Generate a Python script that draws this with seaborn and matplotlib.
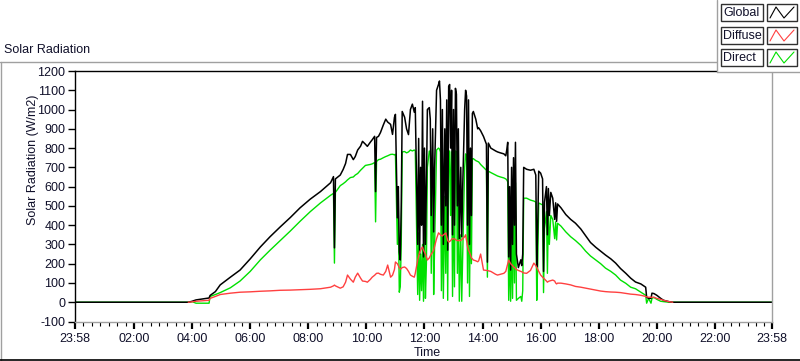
import matplotlib
matplotlib.use("Agg")
import matplotlib.pyplot as plt
from matplotlib.lines import Line2D
from matplotlib.patches import Rectangle
import seaborn as sns
import pandas as pd

# time of day in minutes since midnight (23:58 of the previous day = -2)
minutes = [
    -2, 232, 240, 248, 275, 277, 288, 298, 319, 339, 360, 381, 401, 422, 443, 463,
    484, 505, 526, 532, 534, 536, 546, 552, 557, 561, 567, 573, 577, 582, 588, 592,
    598, 602, 608, 612, 617, 619, 621, 625, 629, 635, 640, 644, 650, 654, 658, 660,
    664, 666, 668, 670, 672, 674, 679, 683, 687, 691, 695, 699, 701, 706, 708, 710,
    712, 714, 716, 718, 720, 722, 724, 726, 730, 732, 734, 737, 739, 741, 745, 749,
    751, 753, 755, 757, 759, 762, 764, 766, 768, 770, 772, 774, 776, 778, 780, 782,
    784, 786, 788, 790, 792, 795, 797, 799, 803, 805, 807, 809, 811, 813, 815, 817,
    819, 821, 826, 830, 832, 836, 842, 848, 850, 852, 857, 867, 871, 877, 884, 888,
    890, 892, 894, 896, 898, 900, 902, 904, 906, 908, 910, 914, 919, 921, 923, 925,
    931, 939, 946, 950, 952, 954, 956, 960, 964, 966, 968, 972, 974, 976, 978, 981,
    985, 989, 991, 993, 995, 1002, 1012, 1022, 1032, 1043, 1053, 1063, 1074, 1084, 1094, 1105,
    1115, 1125, 1136, 1146, 1156, 1167, 1177, 1179, 1183, 1188, 1190, 1194, 1200, 1208, 1214, 1225,
    1233, 1438,
]

global_wm2 = [
    0, 0, 5, 12, 22, 35, 55, 90, 130, 167, 225, 287, 340, 391, 440, 490,
    535, 574, 620, 652, 282, 640, 660, 689, 720, 767, 767, 740, 756, 790, 810, 835,
    820, 809, 830, 843, 861, 574, 855, 861, 880, 920, 950, 935, 923, 871, 960, 975,
    438, 600, 261, 219, 500, 990, 960, 900, 870, 1000, 1028, 986, 1010, 300, 850, 250,
    700, 400, 1043, 235, 800, 300, 600, 1000, 1010, 950, 450, 900, 365, 700, 1100, 1130,
    1148, 1050, 400, 1000, 300, 900, 500, 1050, 270, 1120, 1130, 800, 1100, 350, 1000, 400,
    1110, 1080, 500, 900, 330, 700, 340, 600, 1000, 1100, 1070, 400, 1050, 300, 800, 450,
    980, 990, 950, 900, 905, 890, 860, 820, 208, 826, 800, 785, 780, 775, 770, 760,
    790, 830, 235, 600, 167, 700, 300, 750, 400, 830, 250, 180, 220, 190, 250, 700,
    690, 685, 690, 660, 183, 400, 680, 670, 640, 160, 520, 600, 350, 590, 450, 570,
    540, 430, 516, 420, 510, 490, 455, 430, 410, 380, 345, 310, 285, 265, 245, 225,
    203, 175, 150, 125, 105, 95, 78, 26, 20, 20, 47, 45, 36, 20, 10, 3,
    0, 0,
]

direct_wm2 = [
    0, 0, 3, -5, -5, 30, 40, 50, 75, 110, 160, 220, 270, 320, 370, 420,
    470, 515, 555, 565, 203, 570, 605, 615, 625, 635, 647, 650, 660, 668, 685, 695,
    710, 712, 715, 718, 725, 417, 730, 740, 742, 750, 756, 760, 767, 768, 765, 768,
    300, 450, 52, 80, 300, 780, 782, 775, 780, 790, 785, 790, 785, 40, 360, 10,
    250, 60, 300, 5, 450, 20, 200, 700, 785, 780, 150, 700, 40, 300, 790, 800,
    795, 780, 60, 600, 20, 550, 150, 700, 10, 780, 785, 450, 780, 30, 650, 80,
    785, 780, 150, 550, 5, 350, 5, 250, 700, 770, 760, 100, 740, 30, 500, 200,
    745, 745, 735, 730, 728, 715, 700, 685, 130, 680, 673, 660, 655, 650, 645, 640,
    635, 625, 10, 300, 5, 400, 20, 550, 100, 620, 10, 20, 30, 5, 60, 540,
    540, 530, 525, 520, 10, 200, 515, 510, 505, 50, 380, 470, 150, 460, 300, 450,
    430, 330, 417, 323, 410, 395, 365, 340, 320, 295, 265, 240, 219, 200, 177, 160,
    141, 115, 98, 78, 70, 52, 36, -5, 20, -5, 20, 25, 15, 5, 3, 0,
    0, 0,
]

# diffuse is only logged between dawn and dusk (None = no sample)
diffuse_wm2 = [
    None, 0, 2, 5, 10, 20, 30, 40, 47, 52, 54, 57, 59, 62, 63, 65,
    67, 70, 78, 85, 89, 85, 73, 80, 104, 141, 120, 104, 130, 151, 125, 110,
    108, 104, 118, 130, 140, 145, 150, 151, 145, 141, 160, 193, 130, 140, 170, 209,
    200, 190, 180, 172, 175, 180, 183, 175, 160, 141, 135, 130, 150, 219, 240, 260,
    270, 280, 287, 270, 260, 250, 235, 219, 230, 240, 250, 260, 271, 290, 330, 360,
    355, 350, 345, 344, 350, 355, 360, 340, 320, 313, 315, 320, 325, 330, 330, 328,
    325, 322, 320, 320, 320, 320, 325, 330, 340, 350, 320, 290, 271, 260, 245, 230,
    225, 219, 215, 210, 215, 250, 167, 165, 165, 163, 160, 145, 141, 145, 150, 160,
    180, 200, 219, 210, 200, 195, 190, 183, 180, 175, 170, 165, 160, 158, 155, 152,
    150, 165, 203, 190, 180, 170, 160, 141, 130, 125, 120, 110, 104, 108, 110, 112,
    115, 110, 100, 95, 99, 99, 95, 90, 82, 78, 73, 68, 63, 58, 55, 53,
    52, 50, 46, 42, 40, 36, 30, 28, 26, 26, 26, 26, 20, 15, 10, 3,
    0, None,
]

series_names = ["Global", "Diffuse", "Direct"]
series_colors = {"Global": "#000000", "Diffuse": "#ff4040", "Direct": "#00e000"}

tick_minutes = [-2, 120, 240, 360, 480, 600, 720, 840, 960, 1080, 1200, 1320, 1438]
tick_labels = ["23:58", "02:00", "04:00", "06:00", "08:00", "10:00", "12:00",
               "14:00", "16:00", "18:00", "20:00", "22:00", "23:58"]
y_ticks = list(range(-100, 1300, 100))

df = pd.DataFrame({"Minutes": minutes, "Global": global_wm2,
                   "Direct": direct_wm2, "Diffuse": diffuse_wm2})

sns.set_theme(style="white")
plt.rcParams["font.family"] = ["Liberation Sans", "DejaVu Sans"]
text_col = "#10102a"

W, H = 800, 361
fig = plt.figure(figsize=(W / 100, H / 100), dpi=100)
fig.patch.set_facecolor("white")


def fx(px):
    return px / W


def fy(py):
    return 1 - py / H


ax = fig.add_axes([fx(75), fy(321.5), 697 / W, 250.5 / H])
ax.set_facecolor("white")

# drawing order: Direct, Global over it, Diffuse on top
for name, lw in [("Direct", 1.0), ("Global", 1.1), ("Diffuse", 1.0)]:
    sns.lineplot(data=df.dropna(subset=[name]), x="Minutes", y=name,
                 color=series_colors[name], linewidth=lw, estimator=None,
                 sort=False, ax=ax, legend=False)

ax.set_xlim(-2, 1438)
ax.set_ylim(-100, 1200)
ax.set_xlabel("")
ax.set_ylabel("")
ax.set_yticks(y_ticks)
ax.set_yticklabels([str(v) for v in y_ticks])
ax.set_xticks(tick_minutes)
ax.set_xticklabels(tick_labels)

minor = []
for a, b in zip(tick_minutes[:-1], tick_minutes[1:]):
    minor += [a + (b - a) * k / 7 for k in range(1, 7)]
ax.set_xticks(minor, minor=True)

ax.tick_params(axis="x", which="major", direction="out", length=5, width=1.6,
               color="black", labelsize=9, labelcolor=text_col, pad=3, bottom=True)
ax.tick_params(axis="x", which="minor", direction="out", length=3, width=0.8,
               color="black", bottom=True)
ax.tick_params(axis="y", direction="out", length=5, width=1.0, color="black",
               labelsize=9, labelcolor=text_col, pad=2, left=True)

for side, col in [("top", "black"), ("left", "black"),
                  ("bottom", "#a0a0a0"), ("right", "#a0a0a0")]:
    ax.spines[side].set_visible(True)
    ax.spines[side].set_color(col)
    ax.spines[side].set_linewidth(1.0)

fig.text(fx(33), fy(160), "Solar Radiation (W/m2)", rotation=90, ha="center",
         va="center", fontsize=9, color=text_col)
fig.text(fx(427), fy(353), "Time", ha="center", va="center", fontsize=9,
         color=text_col)
fig.text(fx(4), fy(50), "Solar Radiation", ha="left", va="center", fontsize=9,
         color=text_col)

# panel frame
fig.add_artist(Line2D([fx(0), fx(717)], [fy(62), fy(62)], color="#a0a0a0", lw=1.0))
fig.add_artist(Line2D([fx(0.5), fx(0.5)], [fy(62), fy(361)], color="#a0a0a0", lw=1.0))
fig.add_artist(Line2D([fx(0), fx(800)], [fy(360), fy(360)], color="black", lw=1.2))

# legend panel
fig.add_artist(Rectangle((fx(717), fy(72)), (W - 717) / W, 72 / H,
                         facecolor="white", edgecolor="none", zorder=5))
fig.add_artist(Line2D([fx(717), fx(717)], [fy(0), fy(72)], color="#a0a0a0",
                      lw=1.0, zorder=6))
fig.add_artist(Line2D([fx(717), fx(800)], [fy(72), fy(72)], color="#a0a0a0",
                      lw=1.0, zorder=6))

row_tops = [4, 27, 49]
for name, top in zip(series_names, row_tops):
    h = 17
    fig.add_artist(Rectangle((fx(721), fy(top + h)), 42 / W, h / H, facecolor="white",
                             edgecolor="#303030", lw=1.0, zorder=7))
    fig.text(fx(723.5), fy(top + h / 2 + 0.5), name, ha="left", va="center",
             fontsize=9, color=text_col, zorder=8)
    fig.add_artist(Rectangle((fx(767), fy(top + h)), 30 / W, h / H, facecolor="white",
                             edgecolor="#303030", lw=1.0, zorder=7))
    zx = [770, 776, 784, 794]
    zy = [top + 14, top + 3, top + 14, top + 3]
    fig.add_artist(Line2D([fx(v) for v in zx], [fy(v) for v in zy],
                          color=series_colors[name], lw=0.8, zorder=8))

fig.savefig("out.png", dpi=100)
